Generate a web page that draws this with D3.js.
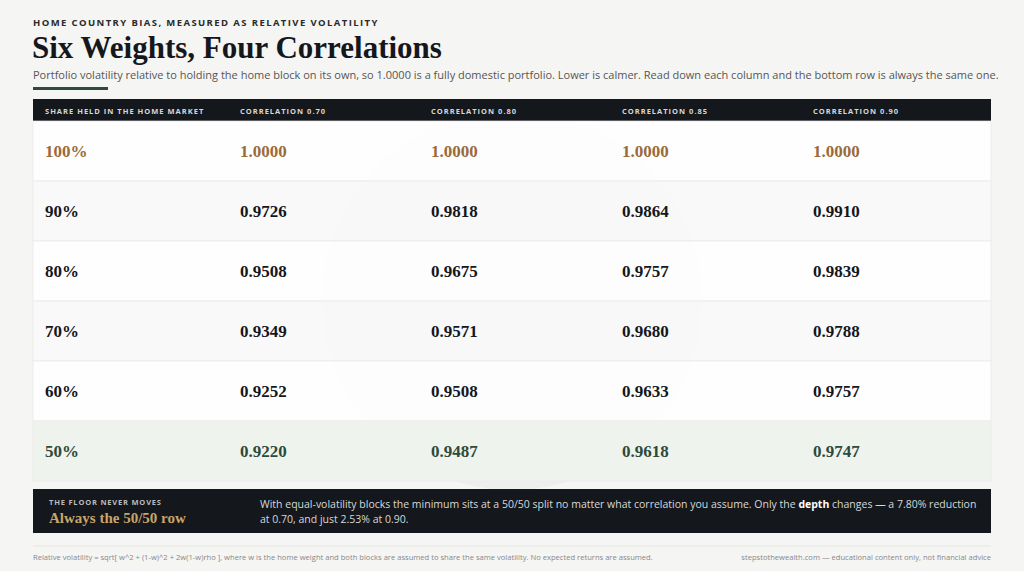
<!DOCTYPE html><html><head><meta charset="utf-8"><script src="https://cdn.jsdelivr.net/npm/d3@7"></script>
<style>body{margin:0;background:#f5f5f4}</style></head><body><svg id="c" width="1024" height="571"></svg>
<script>
const weights=["100%","90%","80%","70%","60%","50%"];
const correlations=["CORRELATION 0.70","CORRELATION 0.80","CORRELATION 0.85","CORRELATION 0.90"];
const v070=[1.0000,0.9726,0.9508,0.9349,0.9252,0.9220];
const v080=[1.0000,0.9818,0.9675,0.9571,0.9508,0.9487];
const v085=[1.0000,0.9864,0.9757,0.9680,0.9633,0.9618];
const v090=[1.0000,0.9910,0.9839,0.9788,0.9757,0.9747];
const series=[v070,v080,v085,v090];
const svg=d3.select("#c");
const serif="'Liberation Serif','DejaVu Serif',serif", sans="'Open Sans','Noto Sans',sans-serif";
svg.append("rect").attr("width",1024).attr("height",571).attr("fill","#f5f5f4");
svg.append("text").attr("x",33).attr("y",26).text("HOME COUNTRY BIAS, MEASURED AS RELATIVE VOLATILITY").attr("font-family",sans).attr("font-weight",700).attr("font-size",9.5).attr("letter-spacing",1.4).attr("fill","#2a2a2a");
svg.append("text").attr("x",32).attr("y",58).text("Six Weights, Four Correlations").attr("font-family",serif).attr("font-weight",700).attr("font-size",31).attr("fill","#14171c");
svg.append("text").attr("x",33).attr("y",79).text("Portfolio volatility relative to holding the home block on its own, so 1.0000 is a fully domestic portfolio. Lower is calmer. Read down each column and the bottom row is always the same one.").attr("font-family",sans).attr("font-size",11).attr("fill","#555");
svg.append("rect").attr("x",33).attr("y",87).attr("width",75).attr("height",3).attr("fill","#2d4a3a");
const x=d3.scaleOrdinal().domain([0,1,2,3,4]).range([45,240,431,622,813]);
const y=d3.scaleBand().domain(d3.range(6)).range([121,481]);
// watermark
svg.append("circle").attr("cx",512).attr("cy",300).attr("r",190).attr("fill","#2d4a3a").attr("opacity",0.035);
svg.append("rect").attr("x",33).attr("y",99).attr("width",958).attr("height",22).attr("fill","#14171c");
["SHARE HELD IN THE HOME MARKET",...correlations].forEach((t,i)=>svg.append("text").attr("x",x(i)).attr("y",113.5).text(t).attr("font-family",sans).attr("font-weight",700).attr("font-size",7.5).attr("letter-spacing",1).attr("fill","#d8d8d8"));
weights.forEach((w,r)=>{
  const bg=r==5?"#eef3ee":(r%2==0?"rgba(255,255,255,0.85)":"rgba(250,250,250,0.8)");
  svg.append("rect").attr("x",33).attr("y",y(r)).attr("width",958).attr("height",y.bandwidth()).attr("fill",bg).attr("stroke","#e8e8e6").attr("stroke-width",0.7);
  const col=r==0?"#9a6b3a":(r==5?"#2d4a3a":"#14171c");
  const ty=y(r)+y.bandwidth()/2+6;
  svg.append("text").attr("x",x(0)).attr("y",ty).text(w).attr("font-family",serif).attr("font-weight",700).attr("font-size",17).attr("fill",col);
  series.forEach((s,c)=>svg.append("text").attr("x",x(c+1)).attr("y",ty).text(s[r].toFixed(4)).attr("font-family",serif).attr("font-weight",700).attr("font-size",17).attr("fill",col));
});
svg.append("rect").attr("x",33).attr("y",489).attr("width",958).attr("height",44).attr("fill","#14171c");
svg.append("text").attr("x",49).attr("y",505).text("THE FLOOR NEVER MOVES").attr("font-family",sans).attr("font-weight",700).attr("font-size",7.5).attr("letter-spacing",0.8).attr("fill","#bbb");
svg.append("text").attr("x",49).attr("y",523).text("Always the 50/50 row").attr("font-family",serif).attr("font-weight",700).attr("font-size",15).attr("fill","#c9a56a");
const t1=svg.append("text").attr("x",260).attr("y",508).attr("font-family",sans).attr("font-size",10.5).attr("fill","#d8d8d8");
t1.append("tspan").text("With equal-volatility blocks the minimum sits at a 50/50 split no matter what correlation you assume. Only the ");
t1.append("tspan").text("depth").attr("font-weight",700).attr("fill","#fff");
t1.append("tspan").text(" changes — a 7.80% reduction");
svg.append("text").attr("x",260).attr("y",523).text("at 0.70, and just 2.53% at 0.90.").attr("font-family",sans).attr("font-size",10.5).attr("fill","#d8d8d8");
svg.append("line").attr("x1",33).attr("x2",991).attr("y1",546).attr("y2",546).attr("stroke","#e4e4e2");
svg.append("text").attr("x",33).attr("y",560).text("Relative volatility = sqrt[ w^2 + (1-w)^2 + 2w(1-w)rho ], where w is the home weight and both blocks are assumed to share the same volatility. No expected returns are assumed.").attr("font-family",sans).attr("font-size",7.6).attr("fill","#888");
svg.append("text").attr("x",991).attr("y",560).attr("text-anchor","end").text("stepstothewealth.com — educational content only, not financial advice").attr("font-family",sans).attr("font-size",7.6).attr("fill","#888");
</script></body></html>
